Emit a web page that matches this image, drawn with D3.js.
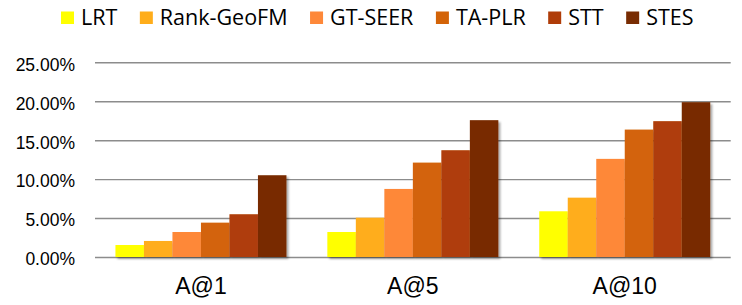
<!DOCTYPE html>
<html>
<head>
<meta charset="utf-8">
<script src="https://cdn.jsdelivr.net/npm/d3@7"></script>
<style>
  body { margin: 0; background: #fff; }
  svg { display: block; font-family: "Open Sans", sans-serif; }
</style>
</head>
<body>
<svg id="chart" width="742" height="305"></svg>
<script>
// chart data (accuracy)
var categories = ["A@1", "A@5", "A@10"];
var seriesNames = ["LRT", "Rank-GeoFM", "GT-SEER", "TA-PLR", "STT", "STES"];
var LRT = [0.0154, 0.0321, 0.0587];
var RankGeoFM = [0.0206, 0.0505, 0.0762];
var GTSEER = [0.0321, 0.0874, 0.1260];
var TAPLR = [0.0441, 0.1212, 0.1636];
var STT = [0.0549, 0.1371, 0.1744];
var STES = [0.1050, 0.1757, 0.1988];
var yTicks = [0, 0.05, 0.10, 0.15, 0.20, 0.25];

var seriesValues = [LRT, RankGeoFM, GTSEER, TAPLR, STT, STES];
var colors = ["#ffff00", "#ffad1a", "#fe8839", "#d36307", "#af3c08", "#782c02"];

var svg = d3.select("#chart");

// plot area (don't call these top/left, window.top is read only)
var plotLeft = 95, plotRight = 730.7, plotTop = 62.3, plotBottom = 257;

var x0 = d3.scaleBand()
  .domain(categories)
  .range([plotLeft, plotRight])
  .paddingInner(0.193)
  .paddingOuter(0.0965);

var x1 = d3.scaleBand()
  .domain(seriesNames)
  .range([0, x0.bandwidth()])
  .padding(0);

var y = d3.scaleLinear()
  .domain([0, 0.25])
  .range([plotBottom, plotTop]);

// drop shadow for the bars
var defs = svg.append("defs");
var shadow = defs.append("filter")
  .attr("id", "shadow")
  .attr("x", "-20%").attr("y", "-20%")
  .attr("width", "150%").attr("height", "150%");
shadow.append("feDropShadow")
  .attr("dx", 2).attr("dy", 2)
  .attr("stdDeviation", 1.2)
  .attr("flood-color", "#000")
  .attr("flood-opacity", 0.35);

// y axis + gridlines
var yAxis = svg.append("g")
  .attr("transform", "translate(" + plotLeft + ",0)")
  .call(d3.axisLeft(y)
    .tickValues(yTicks)
    .tickFormat(d3.format(".2%"))
    .tickSizeInner(-(plotRight - plotLeft))
    .tickSizeOuter(0)
    .tickPadding(20));

yAxis.select(".domain").remove();
yAxis.selectAll(".tick line")
  .attr("stroke", "#8c8c8c")
  .attr("stroke-width", 1.4);
yAxis.selectAll(".tick text")
  .attr("fill", "#000")
  .attr("font-size", "17.5px")
  .attr("dy", "0.45em");

// bars
var groups = svg.append("g")
  .selectAll("g")
  .data(seriesNames)
  .join("g")
  .attr("fill", function(d, i) { return colors[i]; })
  .attr("filter", "url(#shadow)");

groups.selectAll("rect")
  .data(function(d, i) {
    return categories.map(function(c, j) {
      return { cat: c, series: d, value: seriesValues[i][j] };
    });
  })
  .join("rect")
  .attr("x", function(d) { return x0(d.cat) + x1(d.series); })
  .attr("y", function(d) { return y(d.value); })
  .attr("width", x1.bandwidth())
  .attr("height", function(d) { return plotBottom - y(d.value); });

// x axis labels
var xAxis = svg.append("g")
  .attr("transform", "translate(0," + plotBottom + ")")
  .call(d3.axisBottom(x0).tickSize(0));

xAxis.select(".domain").remove();
xAxis.selectAll(".tick text")
  .attr("fill", "#000")
  .attr("font-size", "23px")
  .attr("y", 37)
  .attr("dy", null);

// legend
var legend = svg.append("g");
var lx = 61;
seriesNames.forEach(function(name, i) {
  legend.append("rect")
    .attr("x", lx)
    .attr("y", 11.5)
    .attr("width", 13)
    .attr("height", 12.5)
    .attr("fill", colors[i]);
  var t = legend.append("text")
    .attr("x", lx + 20)
    .attr("y", 25)
    .attr("font-size", "21.5px")
    .attr("fill", "#000")
    .text(name);
  lx = lx + 20 + t.node().getComputedTextLength() + 22.5;
});
</script>
</body>
</html>
